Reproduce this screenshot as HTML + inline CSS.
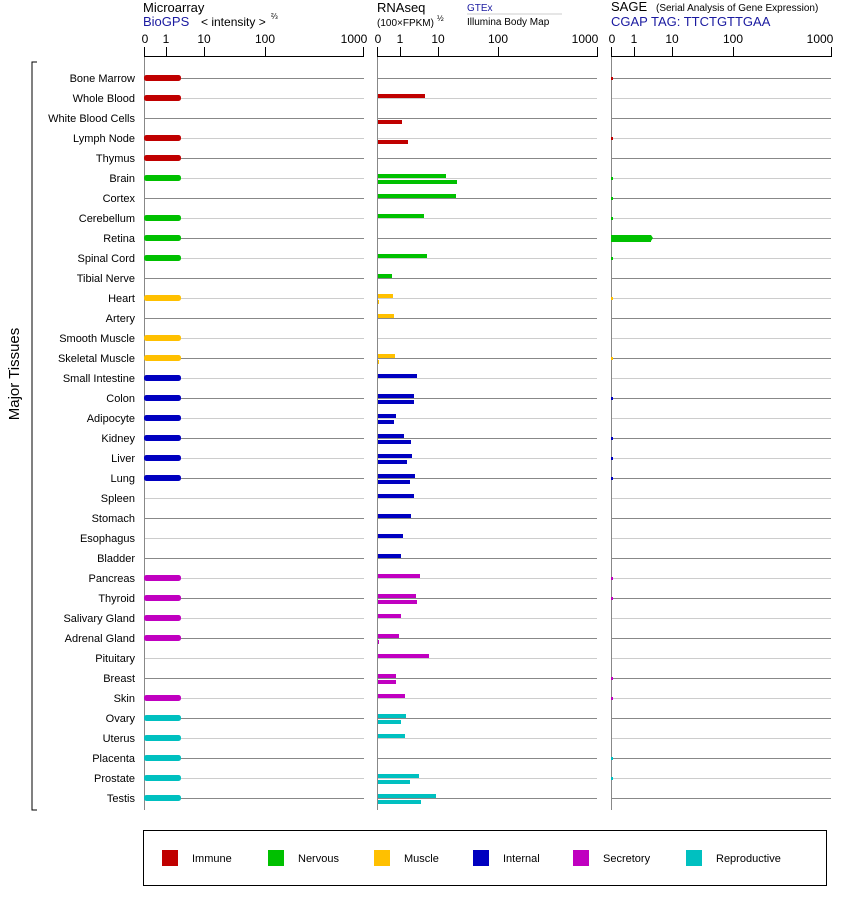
<!DOCTYPE html>
<html><head><meta charset="utf-8"><style>
body{margin:0;background:#fff;width:842px;height:900px;overflow:hidden}
svg{display:block;font-family:"Liberation Sans",Arial,sans-serif}
</style></head><body>
<svg id="s" width="842" height="900" xmlns="http://www.w3.org/2000/svg">
<g font-size="13" fill="#000">
<text x="143" y="12">Microarray</text>
<text x="143" y="26" fill="#1a1aa0">BioGPS</text>
<text x="201" y="26" font-size="12">&lt; intensity &gt;</text>
<text x="271" y="19" font-size="8">⅔</text>
<text x="377" y="12">RNAseq</text>
<text x="377" y="26" font-size="10">(100×FPKM)</text>
<text x="437" y="21" font-size="8">½</text>
<text x="467" y="11" font-size="10" fill="#1a1aa0">GTEx</text>
<line x1="467" y1="14" x2="562" y2="14" stroke="#ccc"/>
<text x="467" y="25" font-size="10">Illumina Body Map</text>
<text x="611" y="11">SAGE</text>
<text x="656" y="11" font-size="10">(Serial Analysis of Gene Expression)</text>
<text x="611" y="26" fill="#1a1aa0">CGAP TAG: TTCTGTTGAA</text>
</g>
<g font-size="12" text-anchor="middle">
<text x="145" y="43">0</text><text x="166" y="43">1</text><text x="204" y="43">10</text><text x="265" y="43">100</text><text x="354" y="43">1000</text>
<text x="378" y="43">0</text><text x="400" y="43">1</text><text x="438" y="43">10</text><text x="498" y="43">100</text><text x="585" y="43">1000</text>
<text x="612" y="43">0</text><text x="634" y="43">1</text><text x="672" y="43">10</text><text x="733" y="43">100</text><text x="820" y="43">1000</text>
</g>
<g font-size="11" text-anchor="end">
<text x="135" y="82">Bone Marrow</text><text x="135" y="102">Whole Blood</text><text x="135" y="122">White Blood Cells</text><text x="135" y="142">Lymph Node</text><text x="135" y="162">Thymus</text><text x="135" y="182">Brain</text><text x="135" y="202">Cortex</text><text x="135" y="222">Cerebellum</text><text x="135" y="242">Retina</text><text x="135" y="262">Spinal Cord</text><text x="135" y="282">Tibial Nerve</text><text x="135" y="302">Heart</text><text x="135" y="322">Artery</text><text x="135" y="342">Smooth Muscle</text><text x="135" y="362">Skeletal Muscle</text><text x="135" y="382">Small Intestine</text><text x="135" y="402">Colon</text><text x="135" y="422">Adipocyte</text><text x="135" y="442">Kidney</text><text x="135" y="462">Liver</text><text x="135" y="482">Lung</text><text x="135" y="502">Spleen</text><text x="135" y="522">Stomach</text><text x="135" y="542">Esophagus</text><text x="135" y="562">Bladder</text><text x="135" y="582">Pancreas</text><text x="135" y="602">Thyroid</text><text x="135" y="622">Salivary Gland</text><text x="135" y="642">Adrenal Gland</text><text x="135" y="662">Pituitary</text><text x="135" y="682">Breast</text><text x="135" y="702">Skin</text><text x="135" y="722">Ovary</text><text x="135" y="742">Uterus</text><text x="135" y="762">Placenta</text><text x="135" y="782">Prostate</text><text x="135" y="802">Testis</text>
</g>
<text transform="translate(19,374) rotate(-90)" font-size="15" text-anchor="middle">Major Tissues</text>
<path d="M37,62H32V810H37" fill="none" stroke="#000"/>
<rect x="143.5" y="830.5" width="683" height="55" fill="none" stroke="#000"/>
<g font-size="11">
<rect x="162" y="850" width="16" height="16" fill="#c00000"/><text x="192" y="862">Immune</text>
<rect x="268" y="850" width="16" height="16" fill="#00c000"/><text x="298" y="862">Nervous</text>
<rect x="374" y="850" width="16" height="16" fill="#ffc000"/><text x="404" y="862">Muscle</text>
<rect x="473" y="850" width="16" height="16" fill="#0000c0"/><text x="503" y="862">Internal</text>
<rect x="573" y="850" width="16" height="16" fill="#c000c0"/><text x="603" y="862">Secretory</text>
<rect x="686" y="850" width="16" height="16" fill="#00c0c0"/><text x="716" y="862">Reproductive</text>
</g>
<g id="g"></g>
</svg>
<script>
var g=document.getElementById('g'),h='';
function r(x,y,w,hh,c){h+='<rect x="'+x+'" y="'+y+'" width="'+w+'" height="'+hh+'" fill="'+c+'"/>';}
function l(x1,y1,x2,y2,c,w){h+='<line x1="'+x1+'" y1="'+y1+'" x2="'+x2+'" y2="'+y2+'" stroke="'+c+'" stroke-width="'+(w||1)+'"/>';}
var P=[[144,364,[166,204,265,363]],[377,597,[400,438,498,597]],[611,831,[634,672,733,831]]];
for(var i=0;i<37;i++){var y=78+i*20+0.5;P.forEach(function(p){l(p[0],y,p[1],y,i%2?'#ccc':'#888');});}
P.forEach(function(p){l(p[0]+0.5,56,p[0]+0.5,810,'#888');l(p[0],56.5,p[1],56.5,'#000');l(p[0]+0.5,47,p[0]+0.5,57,'#000');p[2].forEach(function(t){l(t+0.5,47,t+0.5,57,'#000');});});
var C=['#c00000','#00c000','#ffc000','#0000c0','#c000c0','#00c0c0'];
var cats=[0,0,0,0,0, 1,1,1,1,1,1, 2,2,2,2, 3,3,3,3,3,3,3,3,3,3, 4,4,4,4,4,4,4, 5,5,5,5,5];
var mi=[0,1,3,4,5,7,8,9,11,13,14,15,16,17,18,19,20,25,26,27,28,31,32,33,34,35,36];
mi.forEach(function(i){var y=78+i*20;h+='<rect x="144" y="'+(y-3)+'" width="37" height="6" rx="2.5" fill="'+C[cats[i]]+'"/>';});
var A={1:425,5:446,6:456,7:424,9:427,10:392,11:393,12:394,14:395,15:417,16:414,17:396,18:404,19:412,20:415,21:414,22:411,23:403,24:401,25:420,26:416,27:401,28:399,29:429,30:396,31:405,32:406,33:405,35:419,36:436};
var B={2:402,3:408,5:457,11:379,14:379,16:414,17:394,18:411,19:407,20:410,26:417,28:379,30:396,32:401,35:410,36:421};
for(var k in A){r(378,78+k*20-4,A[k]-378,4,C[cats[k]]);}
for(var k in B){r(378,78+k*20+2,B[k]-378,4,C[cats[k]]);}
[0,3,5,6,7,9,11,14,16,18,19,20,25,26,30,31,34,35].forEach(function(i){r(611,78+i*20-1,2,3,C[cats[i]]);});
r(611,78+8*20-3,40,7,C[1]);h+='<polygon points="651,235 653,238 651,241" fill="#00c000"/>';
g.innerHTML=h;
</script>
</body></html>
